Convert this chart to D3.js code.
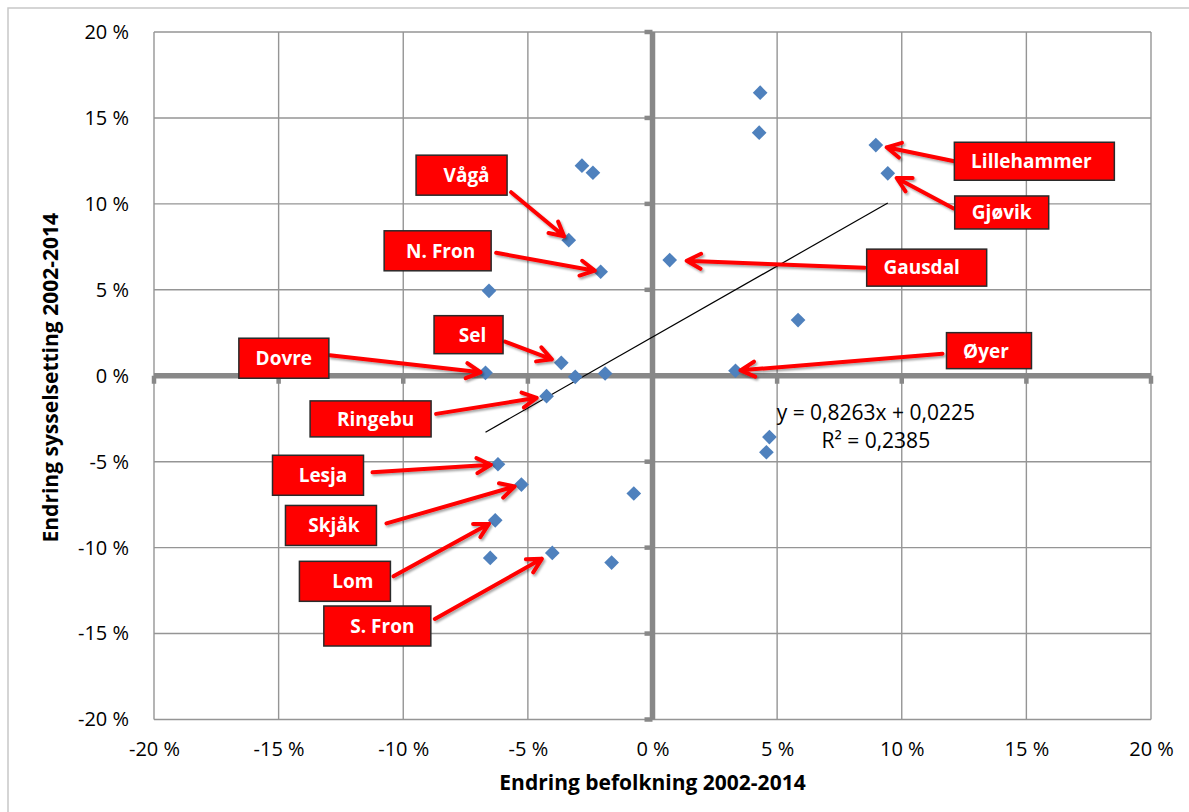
<!DOCTYPE html>
<html>
<head>
<meta charset="utf-8">
<script src="https://cdn.jsdelivr.net/npm/d3@7"></script>
<style>
    body { margin: 0; background: #fff; }
    svg { display: block; font-family: 'Open Sans', Lato, sans-serif; }
</style>
</head>
<body>
<div id="chart"></div>
<script>
// endring 2002-2014 som andel; tomt navn = kommune uten merkelapp
const kommuner = ['', '', 'Lillehammer', 'Gjøvik', 'Gausdal', '', 'Øyer', '', '',
    '', '', 'Vågå', 'N. Fron', '', 'Sel', 'Dovre', '', '', 'Ringebu',
    'Lesja', 'Skjåk', '', 'Lom', '', 'S. Fron', ''];
const befolkning = [0.0432, 0.0428, 0.0896, 0.0944, 0.0069, 0.0584, 0.0333, 0.0469, 0.0457,
    -0.0283, -0.0239, -0.0336, -0.0208, -0.0656, -0.0366, -0.0670, -0.0310, -0.0190, -0.0425,
    -0.0620, -0.0526, -0.0075, -0.0631, -0.0651, -0.0402, -0.0164];
const sysselsetting = [0.1647, 0.1414, 0.1342, 0.1178, 0.0673, 0.0324, 0.0029, -0.0357, -0.0445,
    0.1222, 0.1181, 0.0789, 0.0605, 0.0494, 0.0075, 0.0017, -0.0006, 0.0013, -0.0119,
    -0.0515, -0.0633, -0.0685, -0.0841, -0.1060, -0.1031, -0.1087];
const tickValues = [-0.2, -0.15, -0.1, -0.05, 0, 0.05, 0.1, 0.15, 0.2];
const trend = { slope: 0.8263, intercept: 0.0225, r2: 0.2385 };
const xTitle = 'Endring befolkning 2002-2014';
const yTitle = 'Endring sysselsetting 2002-2014';

// merkelapper: boksens midtpunkt i akseenheter, pilstart (side, gap, dy) og stopp foran punktet
const callouts = [
    { name: 'Vågå', cx: -0.0766, cy: 0.1167, w: 91, h: 40, side: 'r', gap: 4, dy: 17, stop: 6, tx: 5 },
    { name: 'N. Fron', cx: -0.0862, cy: 0.0727, w: 107, h: 40, side: 'r', gap: 5, dy: 2, stop: 6, tx: 3 },
    { name: 'Sel', cx: -0.0738, cy: 0.0239, w: 69, h: 38, side: 'r', gap: 2, dy: 7, stop: 10, tx: 4 },
    { name: 'Dovre', cx: -0.1479, cy: 0.0102, w: 90, h: 40, side: 'r', gap: 1, dy: -3, stop: 5, tx: 0 },
    { name: 'Ringebu', cx: -0.1131, cy: -0.0251, w: 121, h: 36, side: 'r', gap: 5, dy: -5, stop: 10, tx: 5 },
    { name: 'Lesja', cx: -0.1342, cy: -0.0579, w: 91, h: 40, side: 'r', gap: 9, dy: -3, stop: 7, tx: 5 },
    { name: 'Skjåk', cx: -0.1290, cy: -0.0871, w: 91, h: 40, side: 'r', gap: 10, dy: -2, stop: 7, tx: 3 },
    { name: 'Lom', cx: -0.1234, cy: -0.1196, w: 91, h: 40, side: 'r', gap: 3, dy: -5, stop: 7, tx: 8 },
    { name: 'S. Fron', cx: -0.1104, cy: -0.1456, w: 107, h: 40, side: 'r', gap: 4, dy: -7, stop: 12, tx: 5 },
    { name: 'Lillehammer', cx: 0.1532, cy: 0.1248, w: 160, h: 38, side: 'l', gap: 0, dy: 0, stop: 11, tx: -3 },
    { name: 'Gjøvik', cx: 0.1401, cy: 0.0950, w: 94, h: 33, side: 'l', gap: 1, dy: -4, stop: 10, tx: 0 },
    { name: 'Gausdal', cx: 0.1100, cy: 0.0629, w: 120, h: 37, side: 'l', gap: 2, dy: 0, stop: 17, tx: -5 },
    { name: 'Øyer', cx: 0.1350, cy: 0.0146, w: 85, h: 36, side: 'l', gap: 4, dy: 3, stop: 5, tx: -3 },
];
const eqPos = { x: 0.0896, y: -0.0216 };

const WIDTH = 1189, HEIGHT = 812;
const plot = { left: 154, right: 1151, top: 32, bottom: 719.5 };

const fmt = (v) => `${Math.round(v * 100)} %`;

const svg = d3.select('#chart').append('svg')
    .attr('width', WIDTH)
    .attr('height', HEIGHT);

const defs = svg.append('defs');
const shadow = defs.append('filter')
    .attr('id', 'skygge')
    .attr('filterUnits', 'userSpaceOnUse')
    .attr('x', 0).attr('y', 0).attr('width', WIDTH).attr('height', HEIGHT);
shadow.append('feDropShadow')
    .attr('dx', 1.5).attr('dy', 2).attr('stdDeviation', 1.3)
    .attr('flood-color', '#000').attr('flood-opacity', 0.35);

// ytre ramme
svg.append('rect')
    .attr('x', 8).attr('y', 8)
    .attr('width', WIDTH + 20).attr('height', HEIGHT + 20)
    .attr('fill', 'none')
    .attr('stroke', '#c8c8c8')
    .attr('stroke-width', 1.5);

const x = d3.scaleLinear().domain([-0.2, 0.2]).range([plot.left, plot.right]);
const y = d3.scaleLinear().domain([-0.2, 0.2]).range([plot.bottom, plot.top]);

/////////////////////// Rutenett og akser ///////////////////////

const grid = svg.append('g').attr('stroke', '#959595').attr('stroke-width', 1.4);
grid.selectAll('.gx').data(tickValues).join('line')
    .attr('x1', (d) => x(d)).attr('x2', (d) => x(d))
    .attr('y1', plot.top).attr('y2', plot.bottom);
grid.selectAll('.gy').data(tickValues).join('line')
    .attr('class', 'gy')
    .attr('y1', (d) => y(d)).attr('y2', (d) => y(d))
    .attr('x1', plot.left).attr('x2', plot.right);

const zero = svg.append('g').attr('stroke', '#888').attr('stroke-width', 5.5);
zero.append('line')
    .attr('x1', x(0)).attr('x2', x(0))
    .attr('y1', plot.top).attr('y2', plot.bottom);
zero.append('line')
    .attr('y1', y(0)).attr('y2', y(0))
    .attr('x1', plot.left).attr('x2', plot.right);
zero.selectAll('.tx').data(tickValues).join('line')
    .attr('class', 'tx')
    .attr('x1', (d) => x(d)).attr('x2', (d) => x(d))
    .attr('y1', y(0)).attr('y2', y(0) + 8)
    .attr('stroke-width', 4.5);
zero.selectAll('.ty').data(tickValues).join('line')
    .attr('class', 'ty')
    .attr('y1', (d) => y(d)).attr('y2', (d) => y(d))
    .attr('x1', x(0)).attr('x2', x(0) - 8)
    .attr('stroke-width', 4.5);

const xAxis = d3.axisBottom(x).tickValues(tickValues).tickFormat(fmt).tickSize(0).tickPadding(22);
const yAxis = d3.axisLeft(y).tickValues(tickValues).tickFormat(fmt).tickSize(0).tickPadding(25);

svg.append('g')
    .attr('transform', `translate(0, ${plot.bottom})`)
    .call(xAxis)
    .call((g) => g.select('.domain').remove())
    .selectAll('text')
    .style('font-family', "'Open Sans', sans-serif")
    .style('font-size', '20px')
    .attr('fill', '#000');

svg.append('g')
    .attr('transform', `translate(${plot.left}, 0)`)
    .call(yAxis)
    .call((g) => g.select('.domain').remove())
    .selectAll('text')
    .style('font-family', "'Open Sans', sans-serif")
    .style('font-size', '20px')
    .attr('fill', '#000');

svg.append('text')
    .attr('x', x(0))
    .attr('y', 783)
    .attr('dy', '0.35em')
    .attr('text-anchor', 'middle')
    .style('font-size', '21px')
    .style('font-weight', 'bold')
    .text(xTitle);

svg.append('text')
    .attr('transform', `translate(51, ${y(0) + 2}) rotate(-90)`)
    .attr('dy', '0.35em')
    .attr('text-anchor', 'middle')
    .style('font-size', '21px')
    .style('font-weight', 'bold')
    .text(yTitle);

/////////////////////// Trendlinje ///////////////////////

const xExt = d3.extent(befolkning);
svg.append('path')
    .datum(xExt)
    .attr('fill', 'none')
    .attr('stroke', '#000')
    .attr('stroke-width', 1.2)
    .attr('d', d3.line()
        .x((d) => x(d))
        .y((d) => y(trend.slope * d + trend.intercept)));

const numFmt = (v) => String(v).replace('.', ',');
const eq = svg.append('text')
    .attr('text-anchor', 'middle')
    .style('font-size', '21px');
eq.append('tspan')
    .attr('x', x(eqPos.x)).attr('y', y(eqPos.y)).attr('dy', '0.35em')
    .text(`y = ${numFmt(trend.slope)}x + ${numFmt(trend.intercept)}`);
eq.append('tspan')
    .attr('x', x(eqPos.x)).attr('y', y(eqPos.y) + 28).attr('dy', '0.35em')
    .text(`R² = ${numFmt(trend.r2)}`);

/////////////////////// Punkter ///////////////////////

const points = befolkning.map((b, i) => ({ name: kommuner[i], bx: b, sy: sysselsetting[i] }));

svg.append('g')
    .selectAll('path')
    .data(points)
    .join('path')
    .attr('d', d3.symbol(d3.symbolSquare, 108))
    .attr('transform', (d) => `translate(${x(d.bx)}, ${y(d.sy)}) rotate(45)`)
    .attr('fill', '#4f81bd');

/////////////////////// Merkelapper ///////////////////////

const arrows = svg.append('g')
    .attr('filter', 'url(#skygge)')
    .attr('fill', 'none')
    .attr('stroke', '#ff0000')
    .attr('stroke-width', 4)
    .attr('stroke-linecap', 'round')
    .attr('stroke-linejoin', 'round');

const arrowPath = (c) => {
    const p = points.find((d) => d.name === c.name);
    const bx = x(c.cx), by = y(c.cy);
    const sx = c.side === 'r' ? bx + c.w / 2 + c.gap : bx - c.w / 2 - c.gap;
    const sy = by + c.dy;
    const px = x(p.bx), py = y(p.sy);
    const len = Math.hypot(px - sx, py - sy);
    const ux = (px - sx) / len, uy = (py - sy) / len;
    const ex = px - ux * c.stop, ey = py - uy * c.stop;
    const head = 16, ang = 28 * Math.PI / 180;
    const arm = (s) => {
        const cos = Math.cos(s * ang), sin = Math.sin(s * ang);
        const rx = ux * cos - uy * sin, ry = ux * sin + uy * cos;
        return [ex - rx * head, ey - ry * head];
    };
    const a1 = arm(1), a2 = arm(-1);
    return `M${sx},${sy}L${ex},${ey}M${a1[0]},${a1[1]}L${ex},${ey}L${a2[0]},${a2[1]}`;
};

arrows.selectAll('path')
    .data(callouts)
    .join('path')
    .attr('d', arrowPath);

const boxes = svg.append('g')
    .selectAll('g')
    .data(callouts)
    .join('g')
    .attr('transform', (d) => `translate(${x(d.cx)}, ${y(d.cy)})`);

boxes.append('rect')
    .attr('x', (d) => -d.w / 2)
    .attr('y', (d) => -d.h / 2)
    .attr('width', (d) => d.w)
    .attr('height', (d) => d.h)
    .attr('fill', '#ff0000')
    .attr('stroke', '#2a2a2a')
    .attr('stroke-width', 1.5);

boxes.append('text')
    .attr('x', (d) => d.tx)
    .attr('dy', '0.36em')
    .attr('text-anchor', 'middle')
    .attr('fill', '#fff')
    .style('font-size', '19px')
    .style('font-weight', 'bold')
    .text((d) => d.name);
</script>
</body>
</html>
